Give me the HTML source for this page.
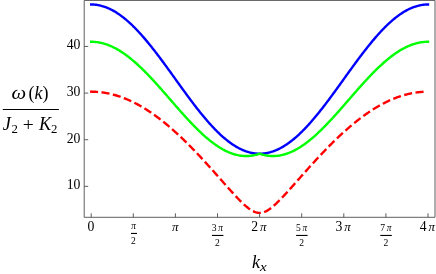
<!DOCTYPE html>
<html><head><meta charset="utf-8"><title>plot</title>
<style>html,body{margin:0;padding:0;background:#fff;width:436px;height:274px;overflow:hidden}
svg text{font-family:"Liberation Serif",serif;fill:#000}</style>
</head><body>
<svg width="436" height="274" viewBox="0 0 436 274" style="display:block;position:absolute;left:0;top:0;will-change:transform">
<rect width="436" height="274" fill="#fff"/>
<path d="M91.20,4.48 L92.04,4.49 L92.88,4.52 L93.73,4.57 L94.57,4.63 L95.41,4.71 L96.25,4.81 L97.09,4.93 L97.94,5.07 L98.78,5.23 L99.62,5.40 L100.46,5.59 L101.30,5.80 L102.15,6.03 L102.99,6.28 L103.83,6.54 L104.67,6.83 L105.51,7.13 L106.36,7.45 L107.20,7.78 L108.04,8.13 L108.88,8.51 L109.72,8.89 L110.57,9.30 L111.41,9.72 L112.25,10.16 L113.09,10.62 L113.93,11.09 L114.78,11.58 L115.62,12.09 L116.46,12.61 L117.30,13.16 L118.14,13.71 L118.99,14.28 L119.83,14.87 L120.67,15.48 L121.51,16.10 L122.35,16.73 L123.20,17.38 L124.04,18.05 L124.88,18.73 L125.72,19.43 L126.56,20.14 L127.41,20.86 L128.25,21.60 L129.09,22.36 L129.93,23.13 L130.77,23.91 L131.62,24.70 L132.46,25.51 L133.30,26.34 L134.14,27.17 L134.98,28.02 L135.83,28.88 L136.67,29.75 L137.51,30.64 L138.35,31.53 L139.19,32.44 L140.04,33.36 L140.88,34.29 L141.72,35.24 L142.56,36.19 L143.40,37.16 L144.25,38.13 L145.09,39.11 L145.93,40.11 L146.77,41.11 L147.61,42.13 L148.46,43.15 L149.30,44.18 L150.14,45.22 L150.98,46.27 L151.82,47.32 L152.67,48.39 L153.51,49.46 L154.35,50.54 L155.19,51.63 L156.03,52.72 L156.88,53.82 L157.72,54.92 L158.56,56.04 L159.40,57.15 L160.24,58.28 L161.09,59.40 L161.93,60.54 L162.77,61.67 L163.61,62.82 L164.45,63.96 L165.30,65.11 L166.14,66.26 L166.98,67.42 L167.82,68.58 L168.66,69.74 L169.51,70.90 L170.35,72.07 L171.19,73.24 L172.03,74.41 L172.87,75.58 L173.72,76.75 L174.56,77.92 L175.40,79.09 L176.24,80.26 L177.08,81.43 L177.93,82.61 L178.77,83.78 L179.61,84.94 L180.45,86.11 L181.29,87.28 L182.14,88.44 L182.98,89.60 L183.82,90.76 L184.66,91.92 L185.50,93.07 L186.35,94.22 L187.19,95.37 L188.03,96.51 L188.87,97.65 L189.71,98.78 L190.56,99.91 L191.40,101.03 L192.24,102.15 L193.08,103.26 L193.92,104.36 L194.77,105.46 L195.61,106.56 L196.45,107.64 L197.29,108.72 L198.13,109.79 L198.98,110.86 L199.82,111.91 L200.66,112.96 L201.50,114.00 L202.34,115.03 L203.19,116.06 L204.03,117.07 L204.87,118.07 L205.71,119.07 L206.55,120.05 L207.40,121.03 L208.24,121.99 L209.08,122.94 L209.92,123.89 L210.76,124.82 L211.61,125.74 L212.45,126.65 L213.29,127.55 L214.13,128.43 L214.97,129.30 L215.82,130.16 L216.66,131.01 L217.50,131.85 L218.34,132.67 L219.18,133.48 L220.03,134.27 L220.87,135.06 L221.71,135.82 L222.55,136.58 L223.39,137.32 L224.24,138.04 L225.08,138.75 L225.92,139.45 L226.76,140.13 L227.60,140.80 L228.45,141.45 L229.29,142.08 L230.13,142.70 L230.97,143.31 L231.81,143.90 L232.66,144.47 L233.50,145.03 L234.34,145.57 L235.18,146.09 L236.02,146.60 L236.87,147.09 L237.71,147.56 L238.55,148.02 L239.39,148.46 L240.23,148.88 L241.08,149.29 L241.92,149.68 L242.76,150.05 L243.60,150.40 L244.44,150.74 L245.29,151.05 L246.13,151.36 L246.97,151.64 L247.81,151.90 L248.65,152.15 L249.50,152.38 L250.34,152.59 L251.18,152.78 L252.02,152.95 L252.86,153.11 L253.71,153.25 L254.55,153.37 L255.39,153.47 L256.23,153.55 L257.07,153.62 L257.92,153.66 L258.76,153.69 L259.60,153.70 L260.44,153.69 L261.28,153.66 L262.13,153.62 L262.97,153.55 L263.81,153.47 L264.65,153.37 L265.49,153.25 L266.34,153.11 L267.18,152.95 L268.02,152.78 L268.86,152.59 L269.70,152.38 L270.55,152.15 L271.39,151.90 L272.23,151.64 L273.07,151.36 L273.91,151.05 L274.76,150.74 L275.60,150.40 L276.44,150.05 L277.28,149.68 L278.12,149.29 L278.97,148.88 L279.81,148.46 L280.65,148.02 L281.49,147.56 L282.33,147.09 L283.18,146.60 L284.02,146.09 L284.86,145.57 L285.70,145.03 L286.54,144.47 L287.39,143.90 L288.23,143.31 L289.07,142.70 L289.91,142.08 L290.75,141.45 L291.60,140.80 L292.44,140.13 L293.28,139.45 L294.12,138.75 L294.96,138.04 L295.81,137.32 L296.65,136.58 L297.49,135.82 L298.33,135.06 L299.17,134.27 L300.02,133.48 L300.86,132.67 L301.70,131.85 L302.54,131.01 L303.38,130.16 L304.23,129.30 L305.07,128.43 L305.91,127.55 L306.75,126.65 L307.59,125.74 L308.44,124.82 L309.28,123.89 L310.12,122.94 L310.96,121.99 L311.80,121.03 L312.65,120.05 L313.49,119.07 L314.33,118.07 L315.17,117.07 L316.01,116.06 L316.86,115.03 L317.70,114.00 L318.54,112.96 L319.38,111.91 L320.22,110.86 L321.07,109.79 L321.91,108.72 L322.75,107.64 L323.59,106.56 L324.43,105.46 L325.28,104.36 L326.12,103.26 L326.96,102.15 L327.80,101.03 L328.64,99.91 L329.49,98.78 L330.33,97.65 L331.17,96.51 L332.01,95.37 L332.85,94.22 L333.70,93.07 L334.54,91.92 L335.38,90.76 L336.22,89.60 L337.06,88.44 L337.91,87.28 L338.75,86.11 L339.59,84.94 L340.43,83.78 L341.27,82.61 L342.12,81.43 L342.96,80.26 L343.80,79.09 L344.64,77.92 L345.48,76.75 L346.33,75.58 L347.17,74.41 L348.01,73.24 L348.85,72.07 L349.69,70.90 L350.54,69.74 L351.38,68.58 L352.22,67.42 L353.06,66.26 L353.90,65.11 L354.75,63.96 L355.59,62.82 L356.43,61.67 L357.27,60.54 L358.11,59.40 L358.96,58.28 L359.80,57.15 L360.64,56.04 L361.48,54.92 L362.32,53.82 L363.17,52.72 L364.01,51.63 L364.85,50.54 L365.69,49.46 L366.53,48.39 L367.38,47.32 L368.22,46.27 L369.06,45.22 L369.90,44.18 L370.74,43.15 L371.59,42.13 L372.43,41.11 L373.27,40.11 L374.11,39.11 L374.95,38.13 L375.80,37.16 L376.64,36.19 L377.48,35.24 L378.32,34.29 L379.16,33.36 L380.01,32.44 L380.85,31.53 L381.69,30.64 L382.53,29.75 L383.37,28.88 L384.22,28.02 L385.06,27.17 L385.90,26.34 L386.74,25.51 L387.58,24.70 L388.43,23.91 L389.27,23.13 L390.11,22.36 L390.95,21.60 L391.79,20.86 L392.64,20.14 L393.48,19.43 L394.32,18.73 L395.16,18.05 L396.00,17.38 L396.85,16.73 L397.69,16.10 L398.53,15.48 L399.37,14.87 L400.21,14.28 L401.06,13.71 L401.90,13.16 L402.74,12.61 L403.58,12.09 L404.42,11.58 L405.27,11.09 L406.11,10.62 L406.95,10.16 L407.79,9.72 L408.63,9.30 L409.48,8.89 L410.32,8.51 L411.16,8.13 L412.00,7.78 L412.84,7.45 L413.69,7.13 L414.53,6.83 L415.37,6.54 L416.21,6.28 L417.05,6.03 L417.90,5.80 L418.74,5.59 L419.58,5.40 L420.42,5.23 L421.26,5.07 L422.11,4.93 L422.95,4.81 L423.79,4.71 L424.63,4.63 L425.47,4.57 L426.32,4.52 L427.16,4.49 L428.00,4.48" fill="none" stroke="#0000ff" stroke-width="2.4" stroke-linecap="square"/>
<path d="M91.20,41.79 L92.04,41.80 L92.88,41.82 L93.73,41.86 L94.57,41.92 L95.41,41.99 L96.25,42.08 L97.09,42.18 L97.94,42.30 L98.78,42.44 L99.62,42.59 L100.46,42.76 L101.30,42.94 L102.15,43.14 L102.99,43.36 L103.83,43.59 L104.67,43.84 L105.51,44.10 L106.36,44.38 L107.20,44.67 L108.04,44.98 L108.88,45.30 L109.72,45.64 L110.57,46.00 L111.41,46.37 L112.25,46.75 L113.09,47.15 L113.93,47.56 L114.78,47.99 L115.62,48.43 L116.46,48.89 L117.30,49.36 L118.14,49.84 L118.99,50.34 L119.83,50.85 L120.67,51.38 L121.51,51.92 L122.35,52.47 L123.20,53.04 L124.04,53.62 L124.88,54.21 L125.72,54.81 L126.56,55.43 L127.41,56.06 L128.25,56.70 L129.09,57.36 L129.93,58.02 L130.77,58.70 L131.62,59.39 L132.46,60.09 L133.30,60.80 L134.14,61.52 L134.98,62.25 L135.83,63.00 L136.67,63.75 L137.51,64.51 L138.35,65.29 L139.19,66.07 L140.04,66.86 L140.88,67.66 L141.72,68.48 L142.56,69.30 L143.40,70.12 L144.25,70.96 L145.09,71.80 L145.93,72.66 L146.77,73.52 L147.61,74.38 L148.46,75.26 L149.30,76.14 L150.14,77.03 L150.98,77.92 L151.82,78.82 L152.67,79.73 L153.51,80.64 L154.35,81.56 L155.19,82.48 L156.03,83.41 L156.88,84.34 L157.72,85.28 L158.56,86.22 L159.40,87.16 L160.24,88.11 L161.09,89.06 L161.93,90.01 L162.77,90.97 L163.61,91.93 L164.45,92.89 L165.30,93.85 L166.14,94.82 L166.98,95.79 L167.82,96.75 L168.66,97.72 L169.51,98.69 L170.35,99.66 L171.19,100.63 L172.03,101.60 L172.87,102.57 L173.72,103.54 L174.56,104.50 L175.40,105.47 L176.24,106.43 L177.08,107.39 L177.93,108.35 L178.77,109.31 L179.61,110.27 L180.45,111.22 L181.29,112.17 L182.14,113.11 L182.98,114.05 L183.82,114.99 L184.66,115.92 L185.50,116.85 L186.35,117.77 L187.19,118.69 L188.03,119.60 L188.87,120.51 L189.71,121.41 L190.56,122.30 L191.40,123.19 L192.24,124.07 L193.08,124.95 L193.92,125.81 L194.77,126.67 L195.61,127.52 L196.45,128.37 L197.29,129.20 L198.13,130.03 L198.98,130.85 L199.82,131.65 L200.66,132.45 L201.50,133.24 L202.34,134.02 L203.19,134.79 L204.03,135.55 L204.87,136.30 L205.71,137.04 L206.55,137.77 L207.40,138.48 L208.24,139.19 L209.08,139.88 L209.92,140.56 L210.76,141.23 L211.61,141.89 L212.45,142.53 L213.29,143.16 L214.13,143.78 L214.97,144.39 L215.82,144.98 L216.66,145.56 L217.50,146.12 L218.34,146.67 L219.18,147.21 L220.03,147.73 L220.87,148.24 L221.71,148.73 L222.55,149.21 L223.39,149.68 L224.24,150.13 L225.08,150.56 L225.92,150.98 L226.76,151.38 L227.60,151.77 L228.45,152.14 L229.29,152.49 L230.13,152.83 L230.97,153.15 L231.81,153.46 L232.66,153.75 L233.50,154.02 L234.34,154.28 L235.18,154.51 L236.02,154.74 L236.87,154.94 L237.71,155.13 L238.55,155.30 L239.39,155.45 L240.23,155.58 L241.08,155.70 L241.92,155.80 L242.76,155.88 L243.60,155.95 L244.44,155.99 L245.29,156.02 L246.13,156.03 L246.97,156.02 L247.81,156.00 L248.65,155.95 L249.50,155.89 L250.34,155.81 L251.18,155.71 L252.02,155.59 L252.86,155.45 L253.71,155.30 L254.55,155.13 L255.39,154.93 L256.23,154.72 L257.07,154.50 L257.92,154.25 L258.76,153.98 L259.60,153.70 L260.44,153.98 L261.28,154.25 L262.13,154.50 L262.97,154.72 L263.81,154.93 L264.65,155.13 L265.49,155.30 L266.34,155.45 L267.18,155.59 L268.02,155.71 L268.86,155.81 L269.70,155.89 L270.55,155.95 L271.39,156.00 L272.23,156.02 L273.07,156.03 L273.91,156.02 L274.76,155.99 L275.60,155.95 L276.44,155.88 L277.28,155.80 L278.12,155.70 L278.97,155.58 L279.81,155.45 L280.65,155.30 L281.49,155.13 L282.33,154.94 L283.18,154.74 L284.02,154.51 L284.86,154.28 L285.70,154.02 L286.54,153.75 L287.39,153.46 L288.23,153.15 L289.07,152.83 L289.91,152.49 L290.75,152.14 L291.60,151.77 L292.44,151.38 L293.28,150.98 L294.12,150.56 L294.96,150.13 L295.81,149.68 L296.65,149.21 L297.49,148.73 L298.33,148.24 L299.17,147.73 L300.02,147.21 L300.86,146.67 L301.70,146.12 L302.54,145.56 L303.38,144.98 L304.23,144.39 L305.07,143.78 L305.91,143.16 L306.75,142.53 L307.59,141.89 L308.44,141.23 L309.28,140.56 L310.12,139.88 L310.96,139.19 L311.80,138.48 L312.65,137.77 L313.49,137.04 L314.33,136.30 L315.17,135.55 L316.01,134.79 L316.86,134.02 L317.70,133.24 L318.54,132.45 L319.38,131.65 L320.22,130.85 L321.07,130.03 L321.91,129.20 L322.75,128.37 L323.59,127.52 L324.43,126.67 L325.28,125.81 L326.12,124.95 L326.96,124.07 L327.80,123.19 L328.64,122.30 L329.49,121.41 L330.33,120.51 L331.17,119.60 L332.01,118.69 L332.85,117.77 L333.70,116.85 L334.54,115.92 L335.38,114.99 L336.22,114.05 L337.06,113.11 L337.91,112.17 L338.75,111.22 L339.59,110.27 L340.43,109.31 L341.27,108.35 L342.12,107.39 L342.96,106.43 L343.80,105.47 L344.64,104.50 L345.48,103.54 L346.33,102.57 L347.17,101.60 L348.01,100.63 L348.85,99.66 L349.69,98.69 L350.54,97.72 L351.38,96.75 L352.22,95.79 L353.06,94.82 L353.90,93.85 L354.75,92.89 L355.59,91.93 L356.43,90.97 L357.27,90.01 L358.11,89.06 L358.96,88.11 L359.80,87.16 L360.64,86.22 L361.48,85.28 L362.32,84.34 L363.17,83.41 L364.01,82.48 L364.85,81.56 L365.69,80.64 L366.53,79.73 L367.38,78.82 L368.22,77.92 L369.06,77.03 L369.90,76.14 L370.74,75.26 L371.59,74.38 L372.43,73.52 L373.27,72.66 L374.11,71.80 L374.95,70.96 L375.80,70.12 L376.64,69.30 L377.48,68.48 L378.32,67.66 L379.16,66.86 L380.01,66.07 L380.85,65.29 L381.69,64.51 L382.53,63.75 L383.37,63.00 L384.22,62.25 L385.06,61.52 L385.90,60.80 L386.74,60.09 L387.58,59.39 L388.43,58.70 L389.27,58.02 L390.11,57.36 L390.95,56.70 L391.79,56.06 L392.64,55.43 L393.48,54.81 L394.32,54.21 L395.16,53.62 L396.00,53.04 L396.85,52.47 L397.69,51.92 L398.53,51.38 L399.37,50.85 L400.21,50.34 L401.06,49.84 L401.90,49.36 L402.74,48.89 L403.58,48.43 L404.42,47.99 L405.27,47.56 L406.11,47.15 L406.95,46.75 L407.79,46.37 L408.63,46.00 L409.48,45.64 L410.32,45.30 L411.16,44.98 L412.00,44.67 L412.84,44.38 L413.69,44.10 L414.53,43.84 L415.37,43.59 L416.21,43.36 L417.05,43.14 L417.90,42.94 L418.74,42.76 L419.58,42.59 L420.42,42.44 L421.26,42.30 L422.11,42.18 L422.95,42.08 L423.79,41.99 L424.63,41.92 L425.47,41.86 L426.32,41.82 L427.16,41.80 L428.00,41.79" fill="none" stroke="#00ff00" stroke-width="2.4" stroke-linecap="square" stroke-linejoin="miter"/>
<path d="M91.20,91.68 L92.04,91.69 L92.88,91.70 L93.73,91.72 L94.57,91.75 L95.41,91.79 L96.25,91.83 L97.09,91.89 L97.94,91.95 L98.78,92.03 L99.62,92.11 L100.46,92.20 L101.30,92.30 L102.15,92.40 L102.99,92.52 L103.83,92.64 L104.67,92.77 L105.51,92.91 L106.36,93.06 L107.20,93.22 L108.04,93.39 L108.88,93.56 L109.72,93.74 L110.57,93.93 L111.41,94.13 L112.25,94.34 L113.09,94.56 L113.93,94.78 L114.78,95.01 L115.62,95.26 L116.46,95.51 L117.30,95.76 L118.14,96.03 L118.99,96.30 L119.83,96.59 L120.67,96.88 L121.51,97.18 L122.35,97.48 L123.20,97.80 L124.04,98.12 L124.88,98.45 L125.72,98.79 L126.56,99.14 L127.41,99.50 L128.25,99.86 L129.09,100.23 L129.93,100.61 L130.77,101.00 L131.62,101.40 L132.46,101.80 L133.30,102.21 L134.14,102.63 L134.98,103.06 L135.83,103.49 L136.67,103.93 L137.51,104.39 L138.35,104.84 L139.19,105.31 L140.04,105.78 L140.88,106.26 L141.72,106.75 L142.56,107.25 L143.40,107.75 L144.25,108.26 L145.09,108.78 L145.93,109.31 L146.77,109.84 L147.61,110.38 L148.46,110.93 L149.30,111.48 L150.14,112.05 L150.98,112.62 L151.82,113.19 L152.67,113.78 L153.51,114.37 L154.35,114.97 L155.19,115.57 L156.03,116.18 L156.88,116.80 L157.72,117.43 L158.56,118.06 L159.40,118.70 L160.24,119.34 L161.09,120.00 L161.93,120.66 L162.77,121.32 L163.61,121.99 L164.45,122.67 L165.30,123.36 L166.14,124.05 L166.98,124.75 L167.82,125.45 L168.66,126.16 L169.51,126.88 L170.35,127.60 L171.19,128.33 L172.03,129.06 L172.87,129.81 L173.72,130.55 L174.56,131.30 L175.40,132.06 L176.24,132.83 L177.08,133.60 L177.93,134.37 L178.77,135.15 L179.61,135.94 L180.45,136.73 L181.29,137.53 L182.14,138.33 L182.98,139.14 L183.82,139.95 L184.66,140.77 L185.50,141.59 L186.35,142.42 L187.19,143.25 L188.03,144.09 L188.87,144.94 L189.71,145.78 L190.56,146.64 L191.40,147.49 L192.24,148.35 L193.08,149.22 L193.92,150.09 L194.77,150.96 L195.61,151.84 L196.45,152.72 L197.29,153.61 L198.13,154.50 L198.98,155.39 L199.82,156.29 L200.66,157.19 L201.50,158.10 L202.34,159.01 L203.19,159.92 L204.03,160.83 L204.87,161.75 L205.71,162.67 L206.55,163.60 L207.40,164.52 L208.24,165.45 L209.08,166.38 L209.92,167.32 L210.76,168.26 L211.61,169.19 L212.45,170.14 L213.29,171.08 L214.13,172.02 L214.97,172.97 L215.82,173.92 L216.66,174.87 L217.50,175.82 L218.34,176.77 L219.18,177.72 L220.03,178.67 L220.87,179.62 L221.71,180.57 L222.55,181.53 L223.39,182.48 L224.24,183.43 L225.08,184.38 L225.92,185.33 L226.76,186.27 L227.60,187.22 L228.45,188.16 L229.29,189.10 L230.13,190.04 L230.97,190.97 L231.81,191.90 L232.66,192.82 L233.50,193.74 L234.34,194.66 L235.18,195.56 L236.02,196.46 L236.87,197.35 L237.71,198.24 L238.55,199.11 L239.39,199.97 L240.23,200.82 L241.08,201.66 L241.92,202.48 L242.76,203.29 L243.60,204.08 L244.44,204.86 L245.29,205.61 L246.13,206.34 L246.97,207.04 L247.81,207.72 L248.65,208.37 L249.50,208.99 L250.34,209.57 L251.18,210.11 L252.02,210.62 L252.86,211.08 L253.71,211.50 L254.55,211.86 L255.39,212.18 L256.23,212.44 L257.07,212.65 L257.92,212.80 L258.76,212.89 L259.60,212.92 L260.44,212.89 L261.28,212.80 L262.13,212.65 L262.97,212.44 L263.81,212.18 L264.65,211.86 L265.49,211.50 L266.34,211.08 L267.18,210.62 L268.02,210.11 L268.86,209.57 L269.70,208.99 L270.55,208.37 L271.39,207.72 L272.23,207.04 L273.07,206.34 L273.91,205.61 L274.76,204.86 L275.60,204.08 L276.44,203.29 L277.28,202.48 L278.12,201.66 L278.97,200.82 L279.81,199.97 L280.65,199.11 L281.49,198.24 L282.33,197.35 L283.18,196.46 L284.02,195.56 L284.86,194.66 L285.70,193.74 L286.54,192.82 L287.39,191.90 L288.23,190.97 L289.07,190.04 L289.91,189.10 L290.75,188.16 L291.60,187.22 L292.44,186.27 L293.28,185.33 L294.12,184.38 L294.96,183.43 L295.81,182.48 L296.65,181.53 L297.49,180.57 L298.33,179.62 L299.17,178.67 L300.02,177.72 L300.86,176.77 L301.70,175.82 L302.54,174.87 L303.38,173.92 L304.23,172.97 L305.07,172.02 L305.91,171.08 L306.75,170.14 L307.59,169.19 L308.44,168.26 L309.28,167.32 L310.12,166.38 L310.96,165.45 L311.80,164.52 L312.65,163.60 L313.49,162.67 L314.33,161.75 L315.17,160.83 L316.01,159.92 L316.86,159.01 L317.70,158.10 L318.54,157.19 L319.38,156.29 L320.22,155.39 L321.07,154.50 L321.91,153.61 L322.75,152.72 L323.59,151.84 L324.43,150.96 L325.28,150.09 L326.12,149.22 L326.96,148.35 L327.80,147.49 L328.64,146.64 L329.49,145.78 L330.33,144.94 L331.17,144.09 L332.01,143.25 L332.85,142.42 L333.70,141.59 L334.54,140.77 L335.38,139.95 L336.22,139.14 L337.06,138.33 L337.91,137.53 L338.75,136.73 L339.59,135.94 L340.43,135.15 L341.27,134.37 L342.12,133.60 L342.96,132.83 L343.80,132.06 L344.64,131.30 L345.48,130.55 L346.33,129.81 L347.17,129.06 L348.01,128.33 L348.85,127.60 L349.69,126.88 L350.54,126.16 L351.38,125.45 L352.22,124.75 L353.06,124.05 L353.90,123.36 L354.75,122.67 L355.59,121.99 L356.43,121.32 L357.27,120.66 L358.11,120.00 L358.96,119.34 L359.80,118.70 L360.64,118.06 L361.48,117.43 L362.32,116.80 L363.17,116.18 L364.01,115.57 L364.85,114.97 L365.69,114.37 L366.53,113.78 L367.38,113.19 L368.22,112.62 L369.06,112.05 L369.90,111.48 L370.74,110.93 L371.59,110.38 L372.43,109.84 L373.27,109.31 L374.11,108.78 L374.95,108.26 L375.80,107.75 L376.64,107.25 L377.48,106.75 L378.32,106.26 L379.16,105.78 L380.01,105.31 L380.85,104.84 L381.69,104.39 L382.53,103.93 L383.37,103.49 L384.22,103.06 L385.06,102.63 L385.90,102.21 L386.74,101.80 L387.58,101.40 L388.43,101.00 L389.27,100.61 L390.11,100.23 L390.95,99.86 L391.79,99.50 L392.64,99.14 L393.48,98.79 L394.32,98.45 L395.16,98.12 L396.00,97.80 L396.85,97.48 L397.69,97.18 L398.53,96.88 L399.37,96.59 L400.21,96.30 L401.06,96.03 L401.90,95.76 L402.74,95.51 L403.58,95.26 L404.42,95.01 L405.27,94.78 L406.11,94.56 L406.95,94.34 L407.79,94.13 L408.63,93.93 L409.48,93.74 L410.32,93.56 L411.16,93.39 L412.00,93.22 L412.84,93.06 L413.69,92.91 L414.53,92.77 L415.37,92.64 L416.21,92.52 L417.05,92.40 L417.90,92.30 L418.74,92.20 L419.58,92.11 L420.42,92.03 L421.26,91.95 L422.11,91.89 L422.95,91.83 L423.79,91.79 L424.63,91.75 L425.47,91.72 L426.32,91.70 L427.16,91.69 L428.00,91.68" fill="none" stroke="#ff0000" stroke-width="2.4" stroke-linecap="square" stroke-dasharray="5.7,5.845"/>
<path d="M84.2,0.45 H435.0 V217.3 H84.2 Z" fill="none" stroke="#4d4d4d" stroke-width="0.9"/>
<path d="M91.20,217.3 v-4 M133.30,217.3 v-4 M175.40,217.3 v-4 M217.50,217.3 v-4 M259.60,217.3 v-4 M301.70,217.3 v-4 M343.80,217.3 v-4 M385.90,217.3 v-4 M428.00,217.3 v-4 M84.2,186.34 h4 M84.2,139.71 h4 M84.2,93.08 h4 M84.2,46.45 h4" fill="none" stroke="#4d4d4d" stroke-width="0.9"/>
<text x="80.40" y="189.34"  font-size="13.7" text-anchor="end" >10</text>
<text x="80.40" y="142.71"  font-size="13.7" text-anchor="end" >20</text>
<text x="80.40" y="96.08"  font-size="13.7" text-anchor="end" >30</text>
<text x="80.40" y="49.45"  font-size="13.7" text-anchor="end" >40</text>
<text x="91.00" y="231.10"  font-size="13.7" text-anchor="middle" >0</text>
<text x="175.30" y="231.10"  font-size="13" font-style="italic" text-anchor="middle" >π</text>
<text x="251.30" y="231.10"  font-size="13.7" text-anchor="start" >2</text>
<text x="260.10" y="231.10"  font-size="13" font-style="italic" text-anchor="start" >π</text>
<text x="335.50" y="231.10"  font-size="13.7" text-anchor="start" >3</text>
<text x="344.30" y="231.10"  font-size="13" font-style="italic" text-anchor="start" >π</text>
<text x="419.70" y="231.10"  font-size="13.7" text-anchor="start" >4</text>
<text x="428.50" y="231.10"  font-size="13" font-style="italic" text-anchor="start" >π</text>
<text x="133.70" y="229.00"  font-size="9.3" font-style="italic" text-anchor="middle" >π</text>
<path d="M131.00,233.45 h6.0" stroke="#000" stroke-width="1.1"/>
<text x="133.50" y="244.10"  font-size="9.6" text-anchor="middle" >2</text>
<text x="211.80" y="230.90"  font-size="9.6" text-anchor="start" >3</text>
<text x="218.30" y="230.90"  font-size="9.3" font-style="italic" text-anchor="start" >π</text>
<path d="M211.90,235.45 h11.5" stroke="#000" stroke-width="1.1"/>
<text x="217.40" y="245.90"  font-size="9.6" text-anchor="middle" >2</text>
<text x="296.00" y="230.90"  font-size="9.6" text-anchor="start" >5</text>
<text x="302.50" y="230.90"  font-size="9.3" font-style="italic" text-anchor="start" >π</text>
<path d="M296.10,235.45 h11.5" stroke="#000" stroke-width="1.1"/>
<text x="301.60" y="245.90"  font-size="9.6" text-anchor="middle" >2</text>
<text x="380.20" y="230.90"  font-size="9.6" text-anchor="start" >7</text>
<text x="386.70" y="230.90"  font-size="9.3" font-style="italic" text-anchor="start" >π</text>
<path d="M380.30,235.45 h11.5" stroke="#000" stroke-width="1.1"/>
<text x="385.80" y="245.90"  font-size="9.6" text-anchor="middle" >2</text>
<text x="252.00" y="267.60"  font-size="18" font-style="italic" text-anchor="start" >k</text>
<text transform="translate(260,270.5) scale(1.12,1)"  font-size="13.5" font-style="italic">x</text>
<text transform="translate(11.4,99) scale(1.15,1)"  font-size="18" font-style="italic">ω</text>
<text x="28.40" y="99.00"  font-size="18" text-anchor="start" >(<tspan font-style="italic">k</tspan>)</text>
<path d="M2.8,109.5 H58.9" stroke="#000" stroke-width="1"/>
<text x="2.80" y="130.00"  font-size="18.3" font-style="italic" text-anchor="start" >J</text>
<text x="11.50" y="133.20"  font-size="12.8" text-anchor="start" >2</text>
<text x="22.80" y="130.60"  font-size="19.5" text-anchor="start" >+</text>
<text x="39.00" y="130.00"  font-size="18.3" font-style="italic" text-anchor="start" >K</text>
<text x="51.00" y="133.20"  font-size="12.8" text-anchor="start" >2</text>
</svg>
</body></html>
